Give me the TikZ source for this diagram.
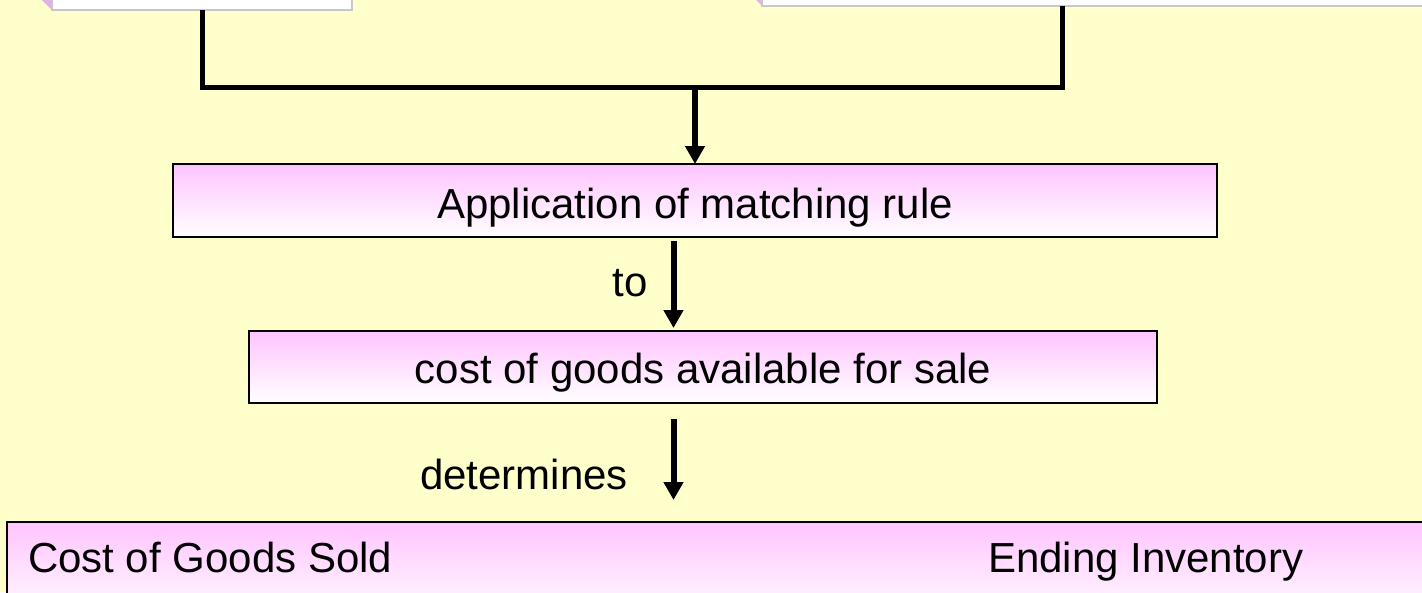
\documentclass[tikz,border=0pt]{standalone}
\usepackage{fontspec}
\setmainfont{Liberation Sans}
\usetikzlibrary{arrows.meta,calc}
\definecolor{paper}{RGB}{255,255,204}
\definecolor{pinktop}{RGB}{255,196,255}
\definecolor{edgegray}{RGB}{200,200,200}
\definecolor{bevel}{RGB}{222,180,232}
\tikzset{
  conn/.style={line width=5pt, black},
  arr/.style={line width=6pt, black, -{Triangle[width=19pt,length=18pt]}},
  stage/.style={draw=black, line width=2pt, top color=pinktop, bottom color=white,
    inner sep=0pt, outer sep=0pt, anchor=north west},
  source/.style={draw=edgegray, line width=2pt, fill=white, inner sep=0pt,
    outer sep=0pt, anchor=north west},
  lbl/.style={font=\fontsize{42}{50}\selectfont, inner sep=0pt, outer sep=0pt},
}
\begin{document}
\begin{tikzpicture}[x=1pt, y=-1pt]
\useasboundingbox (0,0) rectangle (1422,592);
\fill[paper] (0,0) rectangle (1422,592);

\begin{scope}
\clip (0,0) rectangle (1422,592);
% the two source boxes, cut off by the top edge
\fill[bevel] (42,0) -- (52,0) -- (52,10) -- cycle;
\node[source, minimum width=300pt, minimum height=70pt] (src1) at (52,-60) {};
\fill[bevel] (756,0) -- (762,0) -- (762,6) -- cycle;
\node[source, minimum width=700pt, minimum height=66pt] (src2) at (762,-60) {};

% stages of the flow
\node[stage, minimum width=1044pt, minimum height=73pt] (app) at (173,164) {};
\node[lbl, anchor=base] at ($(app.center)+(0,18)$) {Application of matching rule};
\node[stage, minimum width=908pt, minimum height=72pt] (cogs) at (249,331) {};
\node[lbl, anchor=base] at ($(cogs.center)+(0,16)$) {cost of goods available for sale};
\node[stage, minimum width=1440pt, minimum height=100pt] (result) at (7,522) {};
\node[lbl, anchor=base west] (cgs) at (28,572) {Cost of Goods Sold};
\node[lbl, anchor=base west] (endinv) at (988,572) {Ending Inventory};

% joining bracket from the two sources
\coordinate (jr) at (1062.5,87.5);
\coordinate (join) at (app.north |- jr);
\draw[conn] (src1.south) |- (jr) -- (src2.south -| jr);
\draw[arr] (join) -- (app.north);

% arrows down the chain
\coordinate (xa) at (673.5,0);
\coordinate (a1) at ($(app.south -| xa)+(0,4)$);
\coordinate (a1end) at ($(cogs.north -| xa)+(0,-3)$);
\coordinate (a2) at ($(cogs.south -| xa)+(0,16)$);
\coordinate (a3) at ($(result.north -| xa)+(0,-22)$);
\draw[arr] (a1) -- (a1end);
\draw[arr] (a2) -- (a3);
\node[lbl, anchor=base east] (to) at (648,296) {to};
\node[lbl, anchor=base east] (det) at (628,489) {determines};
\end{scope}
\end{tikzpicture}
\end{document}
